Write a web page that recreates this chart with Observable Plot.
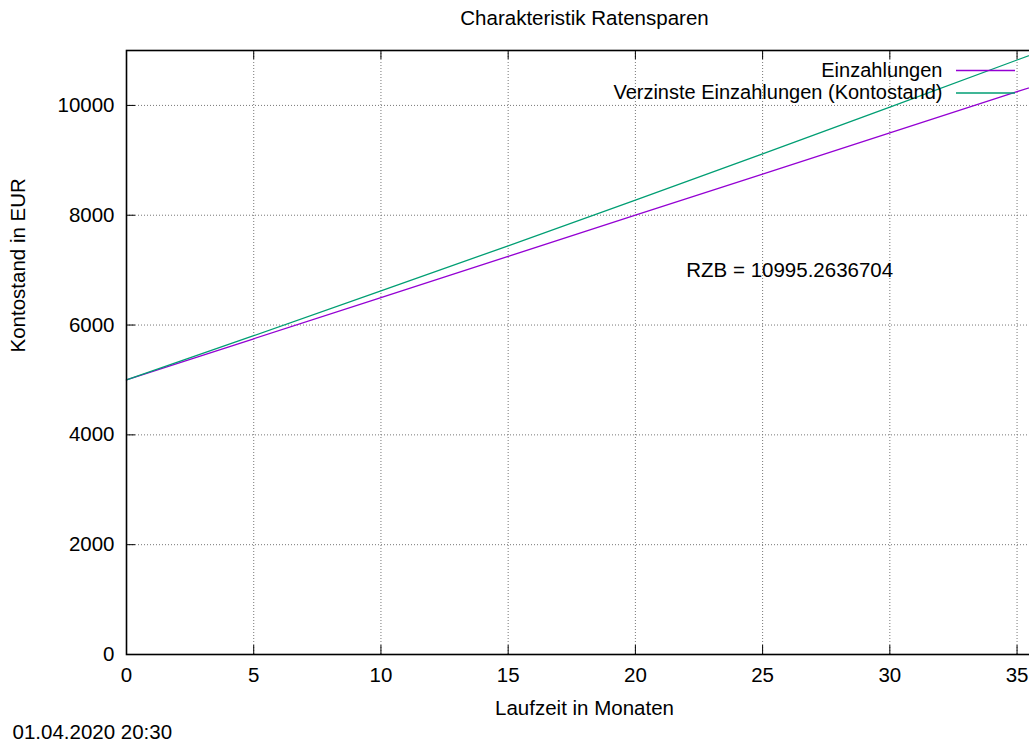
<!DOCTYPE html>
<html>
<head>
<meta charset="utf-8">
<script src="https://cdn.jsdelivr.net/npm/d3@7"></script>
<script src="https://cdn.jsdelivr.net/npm/@observablehq/plot@0.6"></script>
<style>
  html, body { margin: 0; padding: 0; background: #fff; overflow: hidden; }
  #chart svg { max-width: none !important; }
</style>
</head>
<body>
<div id="chart"></div>
<script>
// Monthly savings plan: deposits vs. interest-bearing account balance
const months       = [0, 5, 10, 15, 20, 25, 30, 35, 36];
const einzahlungen = [5000, 5750, 6500, 7250, 8000, 8750, 9500, 10250, 10400];
const kontostand   = [5000, 5806, 6621, 7443, 8276, 9118, 9968, 10827, 10995.2636704];

const xTicks = [0, 5, 10, 15, 20, 25, 30, 35];
const yTicks = [0, 2000, 4000, 6000, 8000, 10000];
const xGrid = xTicks.filter(d => d > 0);
const yGrid = yTicks.filter(d => d > 0);

const seriesNames = ["Einzahlungen", "Verzinste Einzahlungen (Kontostand)"];
const seriesColors = ["#9400d3", "#009e73"];

const rzb = kontostand[kontostand.length - 1];
const rzbPos = {month: 22, value: 7000};

const rows = months.map((m, i) => ({m, einz: einzahlungen[i], konto: kontostand[i]}));

const xMax = 36, yMax = 11000;
const gridStyle = {stroke: "#777", strokeWidth: 1, strokeDasharray: "1,2"};
const tickLen = 9;
const keyRows = [20, 42.5]; // vertical offsets of the key entries below the frame top

const chart = Plot.plot({
  width: 1050,
  height: 742,
  marginLeft: 126,
  marginRight: 8,
  marginTop: 50,
  marginBottom: 88,
  x: {domain: [0, xMax]},
  y: {domain: [0, yMax]},
  style: {
    fontFamily: "'Liberation Sans', Arial, Helvetica, sans-serif",
    fontSize: "20.5px",
    color: "#000",
    background: "#fff",
    overflow: "visible",
    maxWidth: "none"
  },
  marks: [
    // dotted grid
    Plot.ruleX(xGrid, {x: d => d, ...gridStyle}),
    Plot.ruleY(yGrid, {y: d => d, ...gridStyle}),

    // data
    Plot.line(rows, {x: "m", y: "einz", stroke: seriesColors[0], strokeWidth: 1.3}),
    Plot.line(rows, {x: "m", y: "konto", stroke: seriesColors[1], strokeWidth: 1.3}),

    // border
    Plot.frame({stroke: "#000", strokeWidth: 1.6}),

    // inward tick marks on all four sides
    Plot.ruleX(xTicks, {x: d => d, y1: 0, y2: 0, insetTop: -tickLen, stroke: "#000"}),
    Plot.ruleX(xTicks, {x: d => d, y1: yMax, y2: yMax, insetBottom: -tickLen, stroke: "#000"}),
    Plot.ruleY(yTicks, {y: d => d, x1: 0, x2: 0, insetRight: -tickLen, stroke: "#000"}),
    Plot.ruleY(yTicks, {y: d => d, x1: xMax, x2: xMax, insetLeft: -tickLen, stroke: "#000"}),

    // tick labels
    Plot.axisX(xTicks, {tickSize: 0, tickPadding: 13, tickFormat: d => `${d}`, label: null}),
    Plot.axisY(yTicks, {tickSize: 0, tickPadding: 12, tickFormat: d => `${d}`, label: null}),

    // titles
    Plot.text(["Charakteristik Ratensparen"], {frameAnchor: "top", lineAnchor: "middle", dy: -32, text: d => d}),
    Plot.text(["Laufzeit in Monaten"], {frameAnchor: "bottom", lineAnchor: "middle", dy: 54, text: d => d}),
    Plot.text(["Kontostand in EUR"], {frameAnchor: "left", lineAnchor: "middle", dx: -108, rotate: -90, text: d => d}),
    Plot.text(["01.04.2020 20:30"], {frameAnchor: "bottom-left", lineAnchor: "middle", dx: -114, dy: 78, textAnchor: "start", text: d => d}),

    // annotation with the final balance
    Plot.text([rzb], {x: () => rzbPos.month, y: () => rzbPos.value, textAnchor: "start", text: d => `RZB = ${d}`}),

    // key
    Plot.text([seriesNames[0]], {frameAnchor: "top-right", lineAnchor: "middle", textAnchor: "end", fontSize: 20, text: d => d, dx: -100, dy: keyRows[0]}),
    Plot.text([seriesNames[1]], {frameAnchor: "top-right", lineAnchor: "middle", textAnchor: "end", fontSize: 20, text: d => d, dx: -100, dy: keyRows[1]}),
    Plot.ruleY([yMax], {x1: xMax, x2: xMax, insetLeft: -86, insetRight: 27, dy: keyRows[0], stroke: seriesColors[0], strokeWidth: 1.3}),
    Plot.ruleY([yMax], {x1: xMax, x2: xMax, insetLeft: -86, insetRight: 27, dy: keyRows[1], stroke: seriesColors[1], strokeWidth: 1.3})
  ]
});

document.getElementById("chart").appendChild(chart);
</script>
</body>
</html>
